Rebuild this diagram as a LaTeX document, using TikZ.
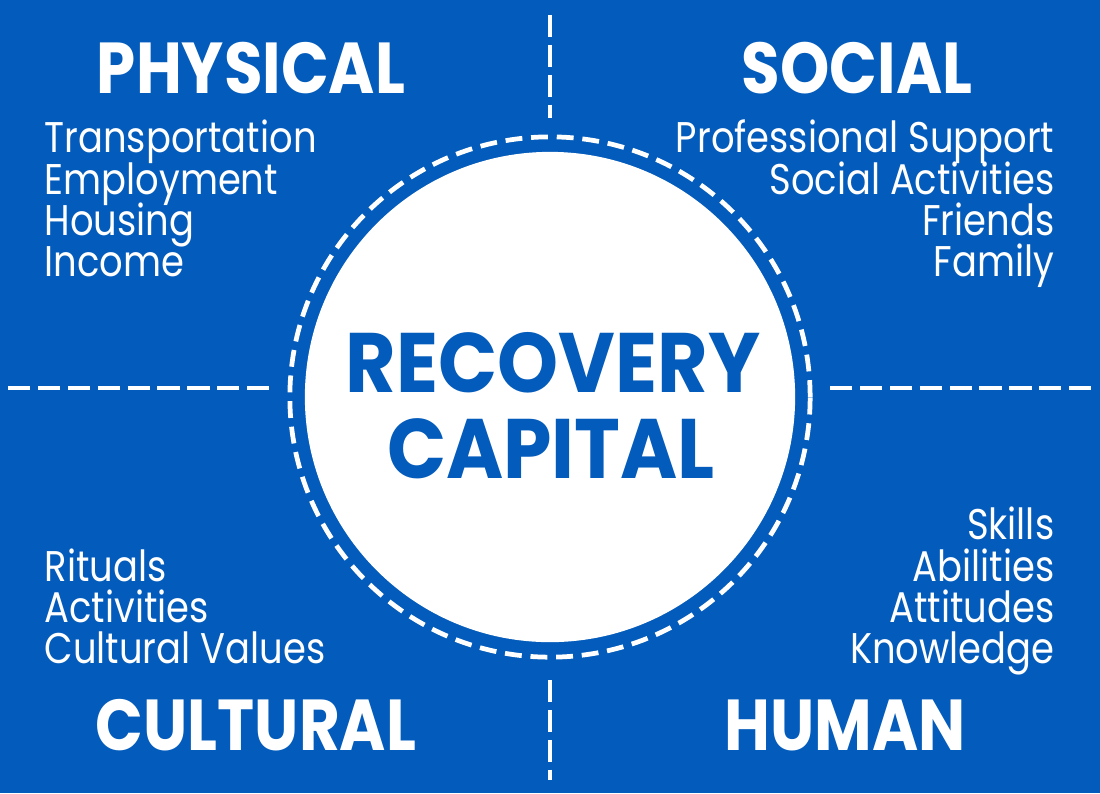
\documentclass[tikz,border=0pt]{standalone}
\usepackage{fontspec}
\setmainfont{Poppins}
\newfontfamily\itemfont[FakeStretch=0.86]{Poppins}
\newfontfamily\headfont[FakeStretch=0.87]{Poppins}
\newfontfamily\corefont[FakeStretch=0.92]{Poppins}
\definecolor{capblue}{RGB}{3,91,187}

\begin{document}
\begin{tikzpicture}[x=0.01cm, y=-0.01cm,
    divider/.style={white, line width=1.35pt, dash pattern=on 6.3pt off 2.2pt},
    heading/.style={white, inner sep=0, font=\headfont\fontsize{20.5}{24}\selectfont\bfseries},
    item/.style={white, inner sep=0, font=\itemfont\fontsize{12.2}{14}\selectfont},
    core/.style={capblue, inner sep=0, font=\corefont\fontsize{24}{26}\selectfont\bfseries}]
        \fill[capblue] (0,0) rectangle (1100,793);

        \node[circle, fill=white, minimum size=4.9cm, inner sep=0] (disc) at (550,397) {};
        \node[circle, draw=white, line width=1.35pt, dash pattern=on 4.8pt off 2.5pt,
              minimum size=5.2cm, inner sep=0] (ring) at (550,397) {};

        \node[core, anchor=base] (recovery) at (553,392) {RECOVERY};
        \node[core, anchor=base] (capital) at (551,478) {CAPITAL};

        \coordinate (ntop) at (550,15);
        \coordinate (nend) at (550,118);
        \coordinate (sbeg) at (550,680);
        \coordinate (sbot) at (550,780);
        \coordinate (wout) at (8,388);
        \coordinate (wend) at (272,388);
        \coordinate (ebeg) at (830,388);
        \coordinate (eout) at (1094,388);
        \draw[divider] (ntop) -- (nend);
        \draw[divider] (sbeg) -- (sbot);
        \draw[divider] (wout) -- (wend);
        \draw[divider] (ebeg) -- (eout);

        \node[heading, anchor=base] (physical) at (251,93) {PHYSICAL};
        \node[heading, anchor=base] (social) at (857,93) {SOCIAL};
        \node[heading, anchor=base] (cultural) at (256,750) {CULTURAL};
        \node[heading, anchor=base] (human) at (845,750) {HUMAN};

        \node[item, anchor=base west] (transport) at (44,152) {Transportation};
        \node[item, anchor=base west] (employ) at (44,194) {Employment};
        \node[item, anchor=base west] (housing) at (44,235) {Housing};
        \node[item, anchor=base west] (income) at (44,276) {Income};

        \node[item, anchor=base east] (support) at (1055,152) {Professional Support};
        \node[item, anchor=base east] (activ) at (1055,194) {Social Activities};
        \node[item, anchor=base east] (friends) at (1055,235) {Friends};
        \node[item, anchor=base east] (family) at (1055,276) {Family};

        \node[item, anchor=base west] (rituals) at (44,581) {Rituals};
        \node[item, anchor=base west] (cactiv) at (44,622) {Activities};
        \node[item, anchor=base west] (values) at (44,663) {Cultural Values};

        \node[item, anchor=base east] (skills) at (1055,539) {Skills};
        \node[item, anchor=base east] (abilities) at (1055,581) {Abilities};
        \node[item, anchor=base east] (attitudes) at (1055,622) {Attitudes};
        \node[item, anchor=base east] (knowledge) at (1055,663) {Knowledge};
\end{tikzpicture}
\end{document}
